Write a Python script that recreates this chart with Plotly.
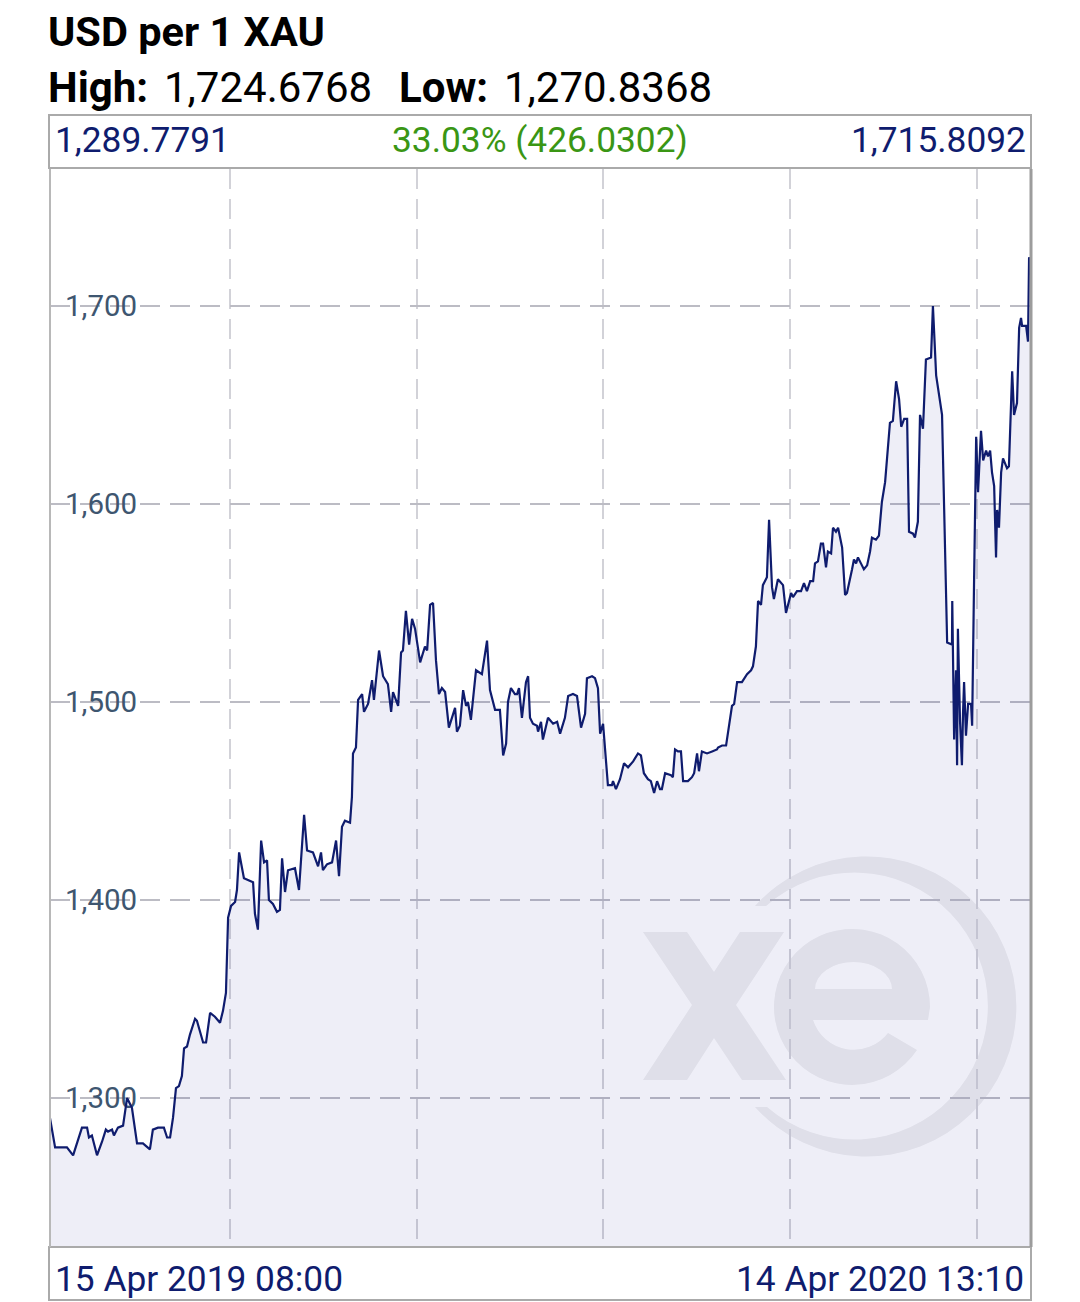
import base64
import pandas as pd
import plotly.graph_objects as go

# ---------------- data ----------------
START = "2019-04-15 08:00"
END = "2020-04-14 13:10"
TITLE = "USD per 1 XAU"
HIGH_LABEL, HIGH_VALUE = "High:", "1,724.6768"
LOW_LABEL, LOW_VALUE = "Low:", "1,270.8368"
OPEN_VALUE = "1,289.7791"
CLOSE_VALUE = "1,715.8092"
CHANGE_TEXT = "33.03% (426.0302)"
START_LABEL = "15 Apr 2019 08:00"
END_LABEL = "14 Apr 2020 13:10"

# days elapsed since START
days = [
    0, 1.9, 3.7, 6.3, 8.6, 11.9, 13.8, 14.5, 15.6, 17.5, 19.4, 20.8, 21.6, 23.1, 23.8, 25.3,
    27.2, 28.7, 30.5, 32.4, 34.6, 37.2, 38.3, 40.2, 42.4, 43.6, 44.7, 45.8, 46.9, 48.0, 49.1,
    49.9, 51.0, 52.1, 54.0, 54.7, 57.0, 58.1, 59.6, 61.4, 63.3, 64.4, 65.5, 66.3, 67.4, 68.9,
    69.6, 70.4, 72.2, 73.7, 75.6, 76.3, 77.4, 78.6, 79.7, 80.8, 81.5, 83.0, 84.5, 85.6, 86.4,
    87.5, 88.6, 91.2, 92.7, 94.6, 95.7, 97.9, 99.8, 100.9, 101.6, 103.1, 105.0, 106.5, 107.6,
    108.7, 109.8, 111.7,
    112.4, 112.8, 113.9, 114.7, 116.2, 116.9, 118.4, 119.9, 120.6, 122.5, 124.0, 125.8, 127.0,
    127.7, 129.6, 130.7, 131.4, 132.5, 133.7, 134.8, 135.9, 137.8, 139.6, 140.4, 141.5, 142.6,
    143.7, 144.8, 145.9, 147.1, 148.5, 150.8, 151.5, 152.6, 153.8, 154.9, 155.6, 156.7, 158.6,
    160.8, 162.7, 163.8, 165.7, 167.5, 168.7, 169.8, 170.5, 171.6, 173.1, 173.9, 174.6, 175.7,
    177.2, 178.0, 178.7, 179.8, 181.3, 181.7, 182.8, 183.5, 185.4, 187.3, 188.8, 189.9, 191.7,
    192.9, 194.7, 196.2, 197.7, 199.2, 199.9, 201.8, 202.9, 204.0, 204.8, 205.9, 207.0, 207.7,
    209.2, 209.6, 210.7, 212.2, 213.7, 215.2, 217.1, 218.9, 220.0, 221.1, 222.6, 223.7, 224.9,
    226.0,
    227.1, 227.8, 229.0, 231.2, 231.9, 232.7, 233.8, 234.9, 235.7, 237.5, 239.0, 239.8, 240.9,
    241.6, 242.7, 244.6, 246.5, 248.3, 248.7, 250.2, 251.7, 252.4, 253.9, 254.7, 255.8, 257.6,
    259.5, 261.0, 261.7, 262.8, 263.6, 264.7, 265.4, 266.9, 267.7, 268.8, 269.5, 271.0, 272.9,
    274.0, 274.8, 275.9, 276.6, 278.1, 279.6, 280.7, 281.8, 283.0, 284.1, 284.8, 285.9, 287.0,
    287.8, 288.9, 289.6, 290.8, 291.5, 292.6, 293.4, 294.9, 296.0, 296.7, 298.6, 299.3, 300.1,
    300.8, 301.9, 303.0, 304.2, 305.3, 306.0, 307.5, 308.6, 309.7, 310.9, 312.7, 313.8, 315.0,
    316.1, 316.9, 318.0, 319.1, 319.8, 321.3, 322.0, 323.1, 323.9, 325.0, 326.1, 328.0, 328.7,
    329.9, 332.1, 334.0, 335.8, 335.9, 336.6, 337.3, 337.7, 338.0, 338.8, 339.5, 339.9, 340.3,
    341.0, 341.8, 342.9, 343.3, 344.0, 344.8, 345.5, 346.6, 347.4, 348.5, 349.2, 350.0, 350.7,
    351.5, 352.2, 352.6, 353.3, 354.1, 354.8, 356.3, 357.0, 358.2, 358.9, 360.0, 360.8, 361.5,
    361.9, 363.4, 364.1, 364.5, 365.215,
]

prices = [
    1289.78, 1275, 1275, 1275, 1271, 1285, 1285, 1280, 1281, 1271, 1278, 1284, 1283, 1284, 1281, 1285,
    1286, 1300, 1295, 1277, 1277, 1274, 1284, 1285, 1285, 1280, 1280, 1290, 1305, 1306, 1311,
    1325, 1326, 1332, 1340, 1339, 1328, 1328, 1343, 1341, 1338, 1344, 1353, 1391, 1397, 1399,
    1405, 1424, 1411, 1410, 1409, 1393, 1385, 1430, 1419, 1420, 1400, 1398, 1394, 1395, 1421,
    1404, 1415, 1416, 1405, 1443, 1425, 1424, 1417, 1424, 1415, 1418, 1419, 1430, 1412,
    1437, 1440, 1439,
    1452, 1474, 1477, 1501, 1504, 1495, 1499, 1511, 1501, 1526, 1513, 1509, 1495,
    1505, 1498, 1525, 1526, 1546, 1529, 1542, 1537, 1520, 1528, 1526, 1549, 1550,
    1521, 1504, 1507, 1505, 1487, 1497, 1485, 1488, 1506, 1498, 1500, 1491, 1516,
    1514, 1531, 1506, 1496, 1496, 1473, 1479, 1500, 1507, 1504, 1504, 1507, 1492,
    1510, 1513, 1492, 1489, 1488, 1485, 1490, 1481, 1492, 1489, 1490, 1484, 1492,
    1503, 1504, 1503, 1487, 1494, 1512, 1513, 1512, 1507, 1484, 1489, 1468, 1458,
    1458, 1460, 1456, 1461, 1469, 1467, 1470, 1474, 1473, 1464, 1461, 1460, 1454,
    1460,
    1456, 1456, 1464, 1463, 1462, 1476, 1475, 1475, 1460, 1460, 1462, 1464, 1474,
    1465, 1475, 1474, 1475, 1476, 1477, 1478, 1478, 1484, 1498, 1499, 1510, 1510,
    1514, 1516, 1518, 1528, 1551, 1549, 1559, 1563, 1592, 1558, 1552, 1562, 1559,
    1545, 1549, 1555, 1553, 1556, 1556, 1560, 1556, 1561, 1561, 1570, 1571, 1580,
    1580, 1568, 1576, 1575, 1588, 1586, 1588, 1578, 1554, 1555, 1567, 1572, 1570,
    1573, 1570, 1567, 1569, 1576, 1583, 1582, 1584, 1601, 1611, 1641, 1642, 1662,
    1653, 1639, 1643, 1643, 1586, 1585, 1583, 1591, 1645, 1638, 1673, 1674, 1700,
    1665, 1645, 1530, 1529, 1551, 1481, 1516, 1468, 1537, 1490, 1468, 1494, 1510,
    1483, 1499, 1499, 1488, 1559, 1634, 1606, 1637, 1622, 1627, 1624, 1627, 1616,
    1609, 1573, 1597, 1588, 1616, 1623, 1618, 1619, 1667, 1645, 1651, 1689, 1694,
    1690, 1690, 1682, 1724.68, 1715.81,
]

y_ticks = [1300, 1400, 1500, 1600, 1700]
grid_days = [67.0, 136.6, 205.9, 275.5, 345.1]

# ---------------- figure ----------------
start = pd.Timestamp(START)
end = pd.Timestamp(END)
dates = start + pd.to_timedelta(days, unit="D")
grid_dates = start + pd.to_timedelta(grid_days, unit="D")

W, H = 1080, 1302
L, R, T, B = 50, 49, 169, 55
PW, PH = W - L - R, H - T - B


def px(x):
    return (x - L) / PW


def py(y):
    return (H - B - y) / PH


NAVY = "#0f1c6e"
FONT = "Roboto"

fig = go.Figure(
    go.Scatter(
        x=dates, y=prices, mode="lines",
        line=dict(color=NAVY, width=2.2),
        fill="tozeroy", fillcolor="rgba(20,20,140,0.07)",
        hoverinfo="skip",
    )
)

# xe watermark logo as an SVG image
svg = (
    '<svg xmlns="http://www.w3.org/2000/svg" width="380" height="312" viewBox="640 850 380 312">'
    '<g fill="#efeff0">'
    '<path d="M643,932 L687,932 L714,972 L740,932 L784,932 L736,1005 L786,1080 L742,1080 '
    'L714,1038 L687,1080 L643,1080 L692,1005 Z"/>'
    '<path fill-rule="evenodd" d="M928,1020 L930,1007 A78,78 0 1 0 917,1050 L888,1033 '
    'A43,43 0 0 1 813,1020 Z M892,989 A38.5,27 0 0 0 815,989 Z"/>'
    '<path d="M755,906 A150,150 0 1 1 755,1107 L767,1107 A133.5,133.5 0 1 0 766,906 Z"/>'
    '</g></svg>'
)
logo_src = "data:image/svg+xml;base64," + base64.b64encode(svg.encode()).decode()

fig.update_layout(
    width=W, height=H,
    margin=dict(l=L, r=R, t=T, b=B, pad=0),
    paper_bgcolor="white", plot_bgcolor="white",
    showlegend=False, hovermode=False,
    font=dict(family=FONT),
    xaxis=dict(
        type="date", range=[start, end],
        tickvals=grid_dates, showticklabels=False, ticks="",
        showgrid=True, gridcolor="#d2d2d8", gridwidth=1.2, griddash="20px,10px",
        zeroline=False, showline=False, fixedrange=True,
    ),
    yaxis=dict(
        range=[1224.7, 1769.2],
        tickvals=y_ticks, tickformat=",d", ticks="",
        ticklabelposition="inside", ticklabelstandoff=12,
        tickfont=dict(family=FONT, size=29.5, color="#3e5670"),
        showgrid=True, gridcolor="#bcbcc4", gridwidth=1.5, griddash="20px,10px",
        zeroline=False, showline=False, layer="below traces", fixedrange=True,
    ),
    images=[dict(
        source=logo_src, xref="paper", yref="paper",
        x=px(640), y=py(850), sizex=380 / PW, sizey=312 / PH,
        xanchor="left", yanchor="top", sizing="stretch", layer="below",
    )],
)

# boxes and frame
box_line = dict(color="#aaaaaa", width=2)
fig.add_shape(type="rect", xref="paper", yref="paper",
              x0=px(49), x1=px(1031), y0=py(168), y1=py(115), line=box_line, layer="above")
fig.add_shape(type="rect", xref="paper", yref="paper",
              x0=px(49), x1=px(1031), y0=py(1300), y1=py(1247), line=box_line, layer="above")
fig.add_shape(type="line", xref="paper", yref="paper",
              x0=px(50), x1=px(50), y0=0, y1=1, line=dict(color="#b8b8b8", width=2), layer="above")
fig.add_shape(type="line", xref="paper", yref="paper",
              x0=1, x1=1, y0=0, y1=1, line=dict(color="#9c9c9c", width=3), layer="above")


def ann(text, x, y, xanchor, size, color, bold=False):
    fig.add_annotation(
        text=f"<b>{text}</b>" if bold else text,
        xref="paper", yref="paper", x=px(x), y=py(y),
        xanchor=xanchor, yanchor="middle", showarrow=False,
        font=dict(family=FONT, size=size, color=color),
    )


ann(TITLE, 46, 31, "left", 41.5, "#000000", bold=True)
ann(HIGH_LABEL, 46, 88, "left", 42, "#000000", bold=True)
ann(HIGH_VALUE, 162, 88, "left", 42, "#000000")
ann(LOW_LABEL, 397, 88, "left", 42, "#000000", bold=True)
ann(LOW_VALUE, 502, 88, "left", 42, "#000000")
ann(OPEN_VALUE, 53, 140, "left", 35.3, NAVY)
ann(CHANGE_TEXT, 540, 140, "center", 35.3, "#3a9614")
ann(CLOSE_VALUE, 1028, 140, "right", 35.3, NAVY)
ann(START_LABEL, 53, 1279, "left", 35.3, NAVY)
ann(END_LABEL, 1026, 1279, "right", 35.3, NAVY)

fig.write_html(
    "out.html",
    config={"displayModeBar": False, "staticPlot": True},
    post_script="document.body.style.margin='0';document.body.style.overflow='hidden';",
)
